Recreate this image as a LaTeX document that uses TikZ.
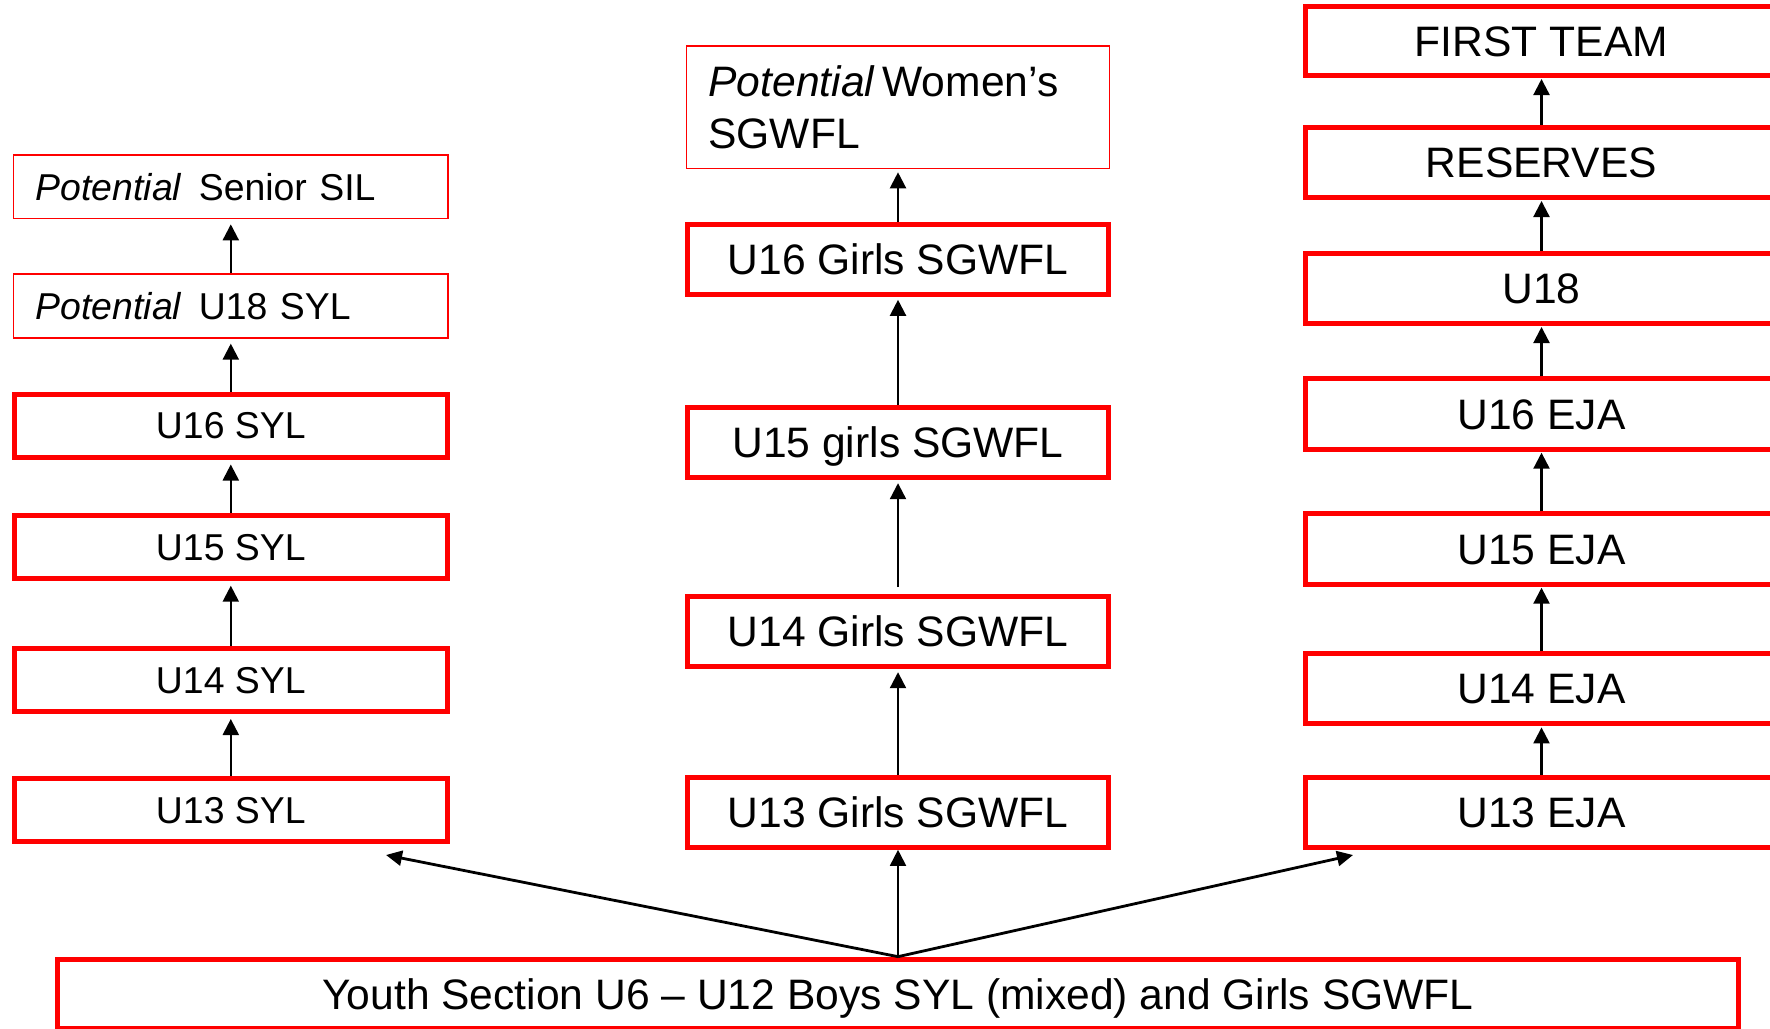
\documentclass[tikz,border=0pt]{standalone}
\usepackage{fontspec}
\setmainfont{Liberation Sans}
\usetikzlibrary{arrows.meta}
\definecolor{boxred}{RGB}{255,0,0}
\tikzset{
  base/.style={rectangle, draw=boxred, inner sep=0pt, text=black},
  thickbox/.style={base, line width=2.5pt},
  thinbox/.style={base, line width=0.75pt},
  smallfont/.style={font=\fontsize{18.7}{22.5}\selectfont, text height=13.4pt, text depth=0pt},
  bigfont/.style={font=\fontsize{21.3}{25.85}\selectfont},
  bigcap/.style={bigfont, text height=15.25pt, text depth=0pt},
  leftbox/.style={thickbox, smallfont, minimum width=216.7pt, minimum height=31.5pt},
  potbox/.style={thinbox, smallfont, text width=195.2pt, inner xsep=11pt, align=left, minimum height=31.9pt},
  midbox/.style={thickbox, bigcap, minimum width=210.8pt, minimum height=35pt},
  rightbox/.style={thickbox, bigcap, minimum width=236pt, minimum height=35.2pt},
  arrL/.style={-{Triangle[length=8pt,width=8pt]}, line width=1.1pt, shorten >=2.5pt},
  arrM/.style={-{Triangle[length=8pt,width=8pt]}, line width=1.1pt, shorten >=1.5pt},
  arrR/.style={-{Triangle[length=8pt,width=8pt]}, line width=1.1pt, shorten >=0.5pt},
  darr/.style={-{Triangle[length=8pt,width=7.5pt]}, line width=1.4pt},
}
\begin{document}
\begin{tikzpicture}[x=0.5pt,y=-0.5pt]
\useasboundingbox (0,0) rectangle (1770,1028);
\fill[white] (0,0) rectangle (1770,1028);
\clip (0,0) rectangle (1770,1028);

% left column
\node[potbox] (sil) at (230.8,186.7) {\textit{Potential}\hspace{0.45em}Senior SIL};
\node[potbox] (u18s) at (230.8,306) {\textit{Potential}\hspace{0.45em}U18 SYL};
\node[leftbox] (u16s) at (230.8,425.5) {U16 SYL};
\node[leftbox] (u15s) at (230.8,546.7) {U15 SYL};
\node[leftbox] (u14s) at (230.8,680) {U14 SYL};
\node[leftbox] (u13s) at (230.8,810) {U13 SYL};

% middle column
\node[thinbox, bigfont, text width=189.6pt, inner xsep=11pt, align=left, minimum height=61.25pt] (wom) at (898,107.3) {\textit{Potential}\hspace{0.17em}Women’s\\SGWFL};
\node[midbox] (u16g) at (898,259.3) {U16 Girls SGWFL};
\node[midbox] (u15g) at (898,442.7) {U15 girls SGWFL};
\node[midbox] (u14g) at (898,631.7) {U14 Girls SGWFL};
\node[midbox] (u13g) at (898,812.3) {U13 Girls SGWFL};

% right column
\node[rightbox, minimum height=34.5pt] (first) at (1541.5,41) {FIRST TEAM};
\node[rightbox] (res) at (1541.5,162.3) {RESERVES};
\node[rightbox] (u18e) at (1541.5,288.3) {U18};
\node[rightbox] (u16e) at (1541.5,414) {U16 EJA};
\node[rightbox] (u15e) at (1541.5,549) {U15 EJA};
\node[rightbox] (u14e) at (1541.5,688.7) {U14 EJA};
\node[rightbox] (u13e) at (1541.5,812.3) {U13 EJA};

% bottom
\node[thickbox, bigcap, minimum width=840.3pt, minimum height=34.75pt] (youth) at (898,993.9) {Youth Section U6 – U12 Boys SYL (mixed) and Girls SGWFL};

% left arrows
\draw[arrL] (u18s.north) -- (sil.south);
\draw[arrL] (u16s.north) -- (u18s.south);
\draw[arrL] (u15s.north) -- (u16s.south);
\draw[arrL] (u14s.north) -- (u15s.south);
\draw[arrL] (u13s.north) -- (u14s.south);

% middle arrows
\draw[arrM] (u16g.north) -- (wom.south);
\draw[arrM] (u15g.north) -- (u16g.south);
\draw[arrM, shorten <=3.5pt] (u14g.north) -- (u15g.south);
\draw[arrM] (u13g.north) -- (u14g.south);

% right arrows
\draw[arrR] (res.north) -- (first.south);
\draw[arrR] (u18e.north) -- (res.south);
\draw[arrR] (u16e.north) -- (u18e.south);
\draw[arrR] (u15e.north) -- (u16e.south);
\draw[arrR] (u14e.north) -- (u15e.south);
\draw[arrR] (u13e.north) -- (u14e.south);

% bottom arrows
\coordinate (tipL) at (386,855);
\coordinate (tipR) at (1353,855);
\draw[darr] (youth.north) -- (tipL);
\draw[darr] (youth.north) -- (tipR);
\draw[-{Triangle[length=8pt,width=8pt]}, line width=0.9pt] (youth.north) -- (u13g.south);
\end{tikzpicture}
\end{document}
